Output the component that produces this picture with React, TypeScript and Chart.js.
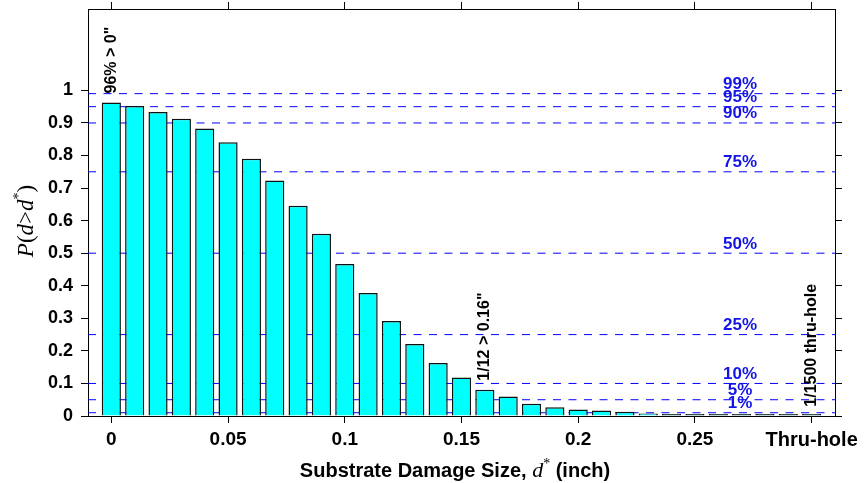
import React, { useEffect, useRef } from 'react';
import { Chart, registerables } from 'chart.js';

Chart.register(...registerables);

// ---------- data ----------
const damageSizes = [
  0, 0.01, 0.02, 0.03, 0.04, 0.05, 0.06, 0.07, 0.08, 0.09, 0.1,
  0.11, 0.12, 0.13, 0.14, 0.15, 0.16, 0.17, 0.18, 0.19, 0.2,
  0.21, 0.22, 0.23, 0.24, 0.25, 0.26, 0.27, 0.28, 0.29, 0.3,
];
const exceedProb = [
  0.963, 0.952, 0.934, 0.913, 0.883, 0.841, 0.79, 0.723, 0.646, 0.56, 0.467,
  0.378, 0.292, 0.221, 0.163, 0.118, 0.081, 0.06, 0.038, 0.027, 0.02,
  0.017, 0.013, 0.008, 0.005, 0.004, 0.004, 0.003, 0.003, 0.002, 0.001,
];
const xTickValues = [0, 0.05, 0.1, 0.15, 0.2, 0.25, 0.3];
const xTickLabels = ['0', '0.05', '0.1', '0.15', '0.2', '0.25', 'Thru-hole'];
const yTickValues = [0, 0.1, 0.2, 0.3, 0.4, 0.5, 0.6, 0.7, 0.8, 0.9, 1];
const yTickLabels = ['0', '0.1', '0.2', '0.3', '0.4', '0.5', '0.6', '0.7', '0.8', '0.9', '1'];
const refLevels = [0.99, 0.95, 0.9, 0.75, 0.5, 0.25, 0.1, 0.05, 0.01];
const refLabels = ['99%', '95%', '90%', '75%', '50%', '25%', '10%', '5%', '1%'];
const refLabelX = 0.2693;
const noteSizes = [0, 0.16, 0.3];
const noteTexts = ['96% > 0"', '1/12 > 0.16"', '1/1500 thru-hole'];

const X_MIN = -0.01;
const X_MAX = 0.31;
const Y_MIN = 0;
const Y_MAX = 1.25;

const SANS = '"Liberation Sans", Arial, Helvetica, sans-serif';
const SERIF = '"Liberation Serif", "Times New Roman", Times, serif';
const LINE_BLUE = '#0000ff';
const TEXT_BLUE = '#1414e6';

function drawPieces(ctx: CanvasRenderingContext2D, pieces: { t: string; f: string; dy?: number }[], cx: number, baseY: number) {
  let total = 0;
  pieces.forEach((p) => {
    ctx.font = p.f;
    total += ctx.measureText(p.t).width;
  });
  let x = cx - total / 2;
  pieces.forEach((p) => {
    ctx.font = p.f;
    ctx.fillText(p.t, x, baseY + (p.dy || 0));
    x += ctx.measureText(p.t).width;
  });
}

const overlayPlugin = {
  id: 'overlay',
  afterDatasetsDraw(chart: any) {
    const { ctx } = chart;
    const xs = chart.scales.x;
    const ys = chart.scales.y;
    ctx.save();
    // percentage labels
    ctx.font = `bold 17px ${SANS}`;
    ctx.fillStyle = TEXT_BLUE;
    ctx.textAlign = 'center';
    ctx.textBaseline = 'alphabetic';
    refLevels.forEach((v, i) => {
      ctx.fillText(refLabels[i], xs.getPixelForValue(refLabelX), ys.getPixelForValue(v) - 4.5);
    });
    // rotated notes
    ctx.font = `bold 16px ${SANS}`;
    ctx.fillStyle = '#000';
    ctx.textAlign = 'left';
    ctx.textBaseline = 'middle';
    noteSizes.forEach((s, i) => {
      const idx = damageSizes.findIndex((d) => Math.abs(d - s) < 1e-9);
      const px = xs.getPixelForValue(s);
      const py = ys.getPixelForValue(exceedProb[idx]) - 9;
      ctx.save();
      ctx.translate(px, py);
      ctx.rotate(-Math.PI / 2);
      ctx.fillText(noteTexts[i], 0, 0);
      ctx.restore();
    });
    ctx.restore();
  },
  afterDraw(chart: any) {
    const { ctx } = chart;
    ctx.save();
    ctx.fillStyle = '#000';
    ctx.textAlign = 'left';
    ctx.textBaseline = 'alphabetic';
    // x-axis title
    drawPieces(ctx, [
      { t: 'Substrate Damage Size, ', f: `bold 20px ${SANS}` },
      { t: 'd', f: `italic 22px ${SERIF}` },
      { t: '*', f: `14px ${SERIF}`, dy: -9 },
      { t: ' (inch)', f: `bold 20px ${SANS}` },
    ], 455, 477);
    // y-axis title (rotated)
    ctx.translate(33, 221);
    ctx.rotate(-Math.PI / 2);
    drawPieces(ctx, [
      { t: 'P', f: `italic 23px ${SERIF}` },
      { t: '(', f: `23px ${SERIF}` },
      { t: 'd', f: `italic 23px ${SERIF}` },
      { t: '>', f: `23px ${SERIF}` },
      { t: 'd', f: `italic 23px ${SERIF}` },
      { t: '*', f: `14px ${SERIF}`, dy: -10 },
      { t: ')', f: `23px ${SERIF}` },
    ], 0, 0);
    ctx.restore();
  },
};

const tickGrid = {
  display: true,
  drawOnChartArea: false,
  drawTicks: true,
  tickLength: 7,
  color: '#000',
  tickColor: '#000',
  offset: false,
};
const frameBorder = { display: true, color: '#000', width: 1 };

function fixH(h: number) {
  return (s: any) => {
    s.height = h;
    s.paddingLeft = 0;
    s.paddingRight = 0;
    s.paddingTop = 0;
    s.paddingBottom = 0;
  };
}
function fixW(w: number) {
  return (s: any) => {
    s.width = w;
    s.paddingLeft = 0;
    s.paddingRight = 0;
    s.paddingTop = 0;
    s.paddingBottom = 0;
  };
}

export default function App() {
  const canvasRef = useRef<HTMLCanvasElement | null>(null);

  useEffect(() => {
    if (!canvasRef.current) return;
    const barData = damageSizes.map((d, i) => ({ x: d, y: exceedProb[i] }));
    const lineSets = refLevels.map((v) => ({
      type: 'line' as const,
      data: [{ x: X_MIN, y: v }, { x: X_MAX, y: v }],
      borderColor: LINE_BLUE,
      borderWidth: 1,
      borderDash: [8, 7.5],
      pointRadius: 0,
      fill: false,
      order: 1,
      xAxisID: 'x',
      yAxisID: 'y',
    }));
    const chart = new Chart(canvasRef.current, {
      type: 'bar',
      data: {
        datasets: [
          {
            type: 'bar',
            data: barData,
            backgroundColor: (c: any) => (c.raw && c.raw.y < 0.006 ? '#0b5f5f' : '#00ffff'),
            borderColor: '#111',
            borderWidth: 1.5,
            minBarLength: 2,
            barPercentage: 0.82,
            categoryPercentage: 1,
            order: 0,
            xAxisID: 'x',
            yAxisID: 'y',
          } as any,
          ...lineSets,
        ],
      },
      options: {
        responsive: false,
        animation: false,
        events: [],
        layout: { padding: 0 },
        plugins: { legend: { display: false }, tooltip: { enabled: false }, title: { display: false } },
        scales: {
          x: {
            type: 'linear',
            position: 'bottom',
            min: X_MIN,
            max: X_MAX,
            offset: false,
            afterBuildTicks: (s: any) => { s.ticks = xTickValues.map((v) => ({ value: v })); },
            afterFit: fixH(67),
            grid: tickGrid,
            border: frameBorder,
            ticks: {
              padding: 5,
              color: '#000',
              maxRotation: 0,
              autoSkip: false,
              font: (c: any) => ({ family: SANS, weight: 'bold', size: c.tick && Math.abs(c.tick.value - 0.3) < 1e-9 ? 20 : 19 }),
              callback: (v: any) => xTickLabels[xTickValues.findIndex((t) => Math.abs(t - v) < 1e-9)],
            },
          },
          x2: {
            type: 'linear',
            position: 'top',
            min: X_MIN,
            max: X_MAX,
            offset: false,
            afterBuildTicks: (s: any) => { s.ticks = xTickValues.map((v) => ({ value: v })); },
            afterFit: fixH(9),
            grid: tickGrid,
            border: frameBorder,
            ticks: { display: false },
          },
          y: {
            type: 'linear',
            position: 'left',
            min: Y_MIN,
            max: Y_MAX,
            afterBuildTicks: (s: any) => { s.ticks = yTickValues.map((v) => ({ value: v })); },
            afterFit: fixW(88),
            grid: tickGrid,
            border: frameBorder,
            ticks: {
              padding: 8,
              color: '#000',
              autoSkip: false,
              font: { family: SANS, weight: 'bold', size: 18 },
              callback: (v: any) => yTickLabels[yTickValues.findIndex((t) => Math.abs(t - v) < 1e-9)],
            },
          },
          y2: {
            type: 'linear',
            position: 'right',
            min: Y_MIN,
            max: Y_MAX,
            afterBuildTicks: (s: any) => { s.ticks = yTickValues.map((v) => ({ value: v })); },
            afterFit: fixW(32),
            grid: tickGrid,
            border: frameBorder,
            ticks: { display: false },
          },
        },
      } as any,
      plugins: [overlayPlugin],
    });
    return () => chart.destroy();
  }, []);

  return (
    <canvas
      ref={canvasRef}
      width={867}
      height={483}
      style={{ position: 'fixed', left: 0, top: 0, background: '#fff' }}
    />
  );
}
